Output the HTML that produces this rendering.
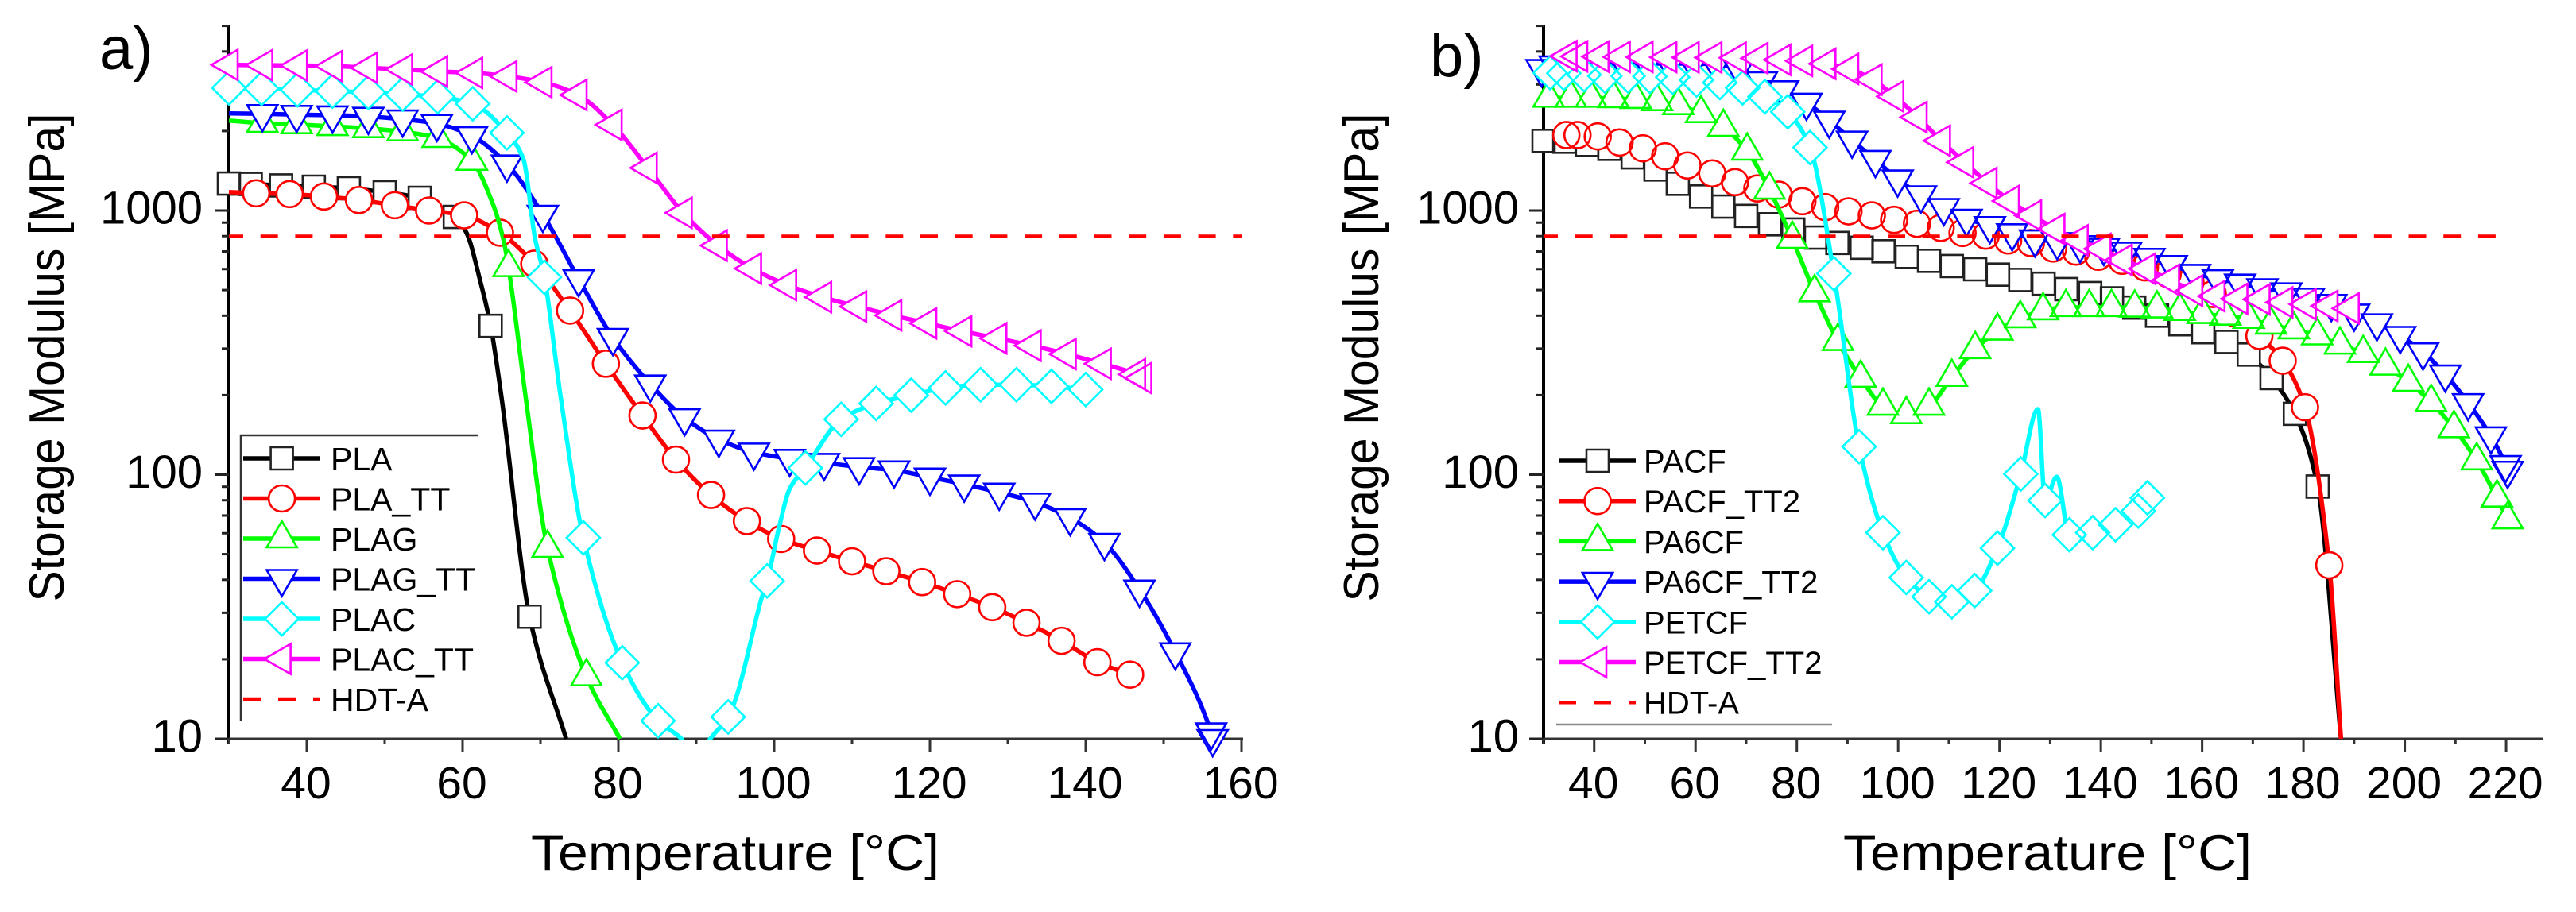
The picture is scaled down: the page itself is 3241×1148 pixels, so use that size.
<!DOCTYPE html>
<html lang="en">
<head>
<meta charset="utf-8">
<title>Storage Modulus vs Temperature</title>
<style>
html,body{margin:0;padding:0;background:#fff;}
svg{display:block;font-family:"Liberation Sans",Arial,sans-serif;}
</style>
</head>
<body>
<svg id="chart" xmlns="http://www.w3.org/2000/svg" width="3241" height="1148" viewBox="0 0 3241 1148">
  <rect x="0" y="0" width="3241" height="1148" fill="#ffffff"/>
  <defs>
    <clipPath id="plotClip"><rect x="0" y="0" width="3241" height="931"/></clipPath>
  </defs>
  <g id="panelA"></g>
  <g id="panelB"></g>
  <text x="125" y="87" font-size="76" fill="#000">a)</text>
  <text x="1799" y="96" font-size="76" fill="#000">b)</text>
  <text x="80" y="450" font-size="62" fill="#000" text-anchor="middle" transform="rotate(-90 80 450)" textLength="615" lengthAdjust="spacingAndGlyphs">Storage Modulus [MPa]</text>
  <text x="1734" y="450" font-size="62" fill="#000" text-anchor="middle" transform="rotate(-90 1734 450)" textLength="615" lengthAdjust="spacingAndGlyphs">Storage Modulus [MPa]</text>
  <text x="925" y="1095" font-size="63" fill="#000" text-anchor="middle" textLength="514" lengthAdjust="spacingAndGlyphs">Temperature [°C]</text>
  <text x="2576" y="1095" font-size="63" fill="#000" text-anchor="middle" textLength="514" lengthAdjust="spacingAndGlyphs">Temperature [°C]</text>
</svg>
<script>
// ---------- Panel a data ----------
const plaT = [30,32.8,36.7,40.9,45.4,50,54.5,59,63.6,68.6];
const plaE = [1265,1260,1244,1231,1214,1173,1117,946,366,29];
const plaLineT = [60.5,62.3,65,73.3];
const plaLineE = [824,536,196,10];

const plaTtT = [33.5,37.8,42.2,46.7,51.3,55.7,60.2,64.8,69.2,73.8,78.4,83.1,87.4,91.9,96.5,100.9,105.5,110,114.4,119,123.5,128,132.4,136.9,141.5,145.7];
const plaTtE = [1162,1154,1130,1096,1047,1000,959,824,629,418,263,167.5,114,83.8,66.7,57.1,51.6,47,43.1,39.2,35.3,31.5,27.5,23.5,19.5,17.5];
const plaTtLineT = [30];
const plaTtLineE = [1175];

const plagT = [34.3,38.7,43.3,47.9,52.3,56.8,61.2,65.9,70.9,75.9];
const plagE = [2142,2117,2083,2045,1989,1878,1539,609,52.7,17.2];
const plagLineT = [30,63.9,65.2,68.1,80.2];
const plagLineE = [2191,1057,785,196,10];

const plagTtT = [34.3,38.7,43.3,47.9,52.3,56.7,61.2,65.7,70.3,74.9,79.3,84.1,88.5,92.9,97.4,102,106.4,110.9,115.4,120,124.4,128.9,133.5,138,142.4,146.9,151.5,156.1,156.3];
const plagTtE = [2323,2307,2296,2269,2217,2132,1917,1498,966,551,330,220,164,136,121.5,115,111,107,104,97.7,92,85.7,78.6,68.6,55.3,36.8,21.3,10.6,10];
const plagTtLineT = [30];
const plagTtLineE = [2332];

const placT = [30,34.2,38.8,43.3,47.9,52.3,56.8,61.3,65.7,70.5,75.5,80.5,85.1,94.1,99.1,104,108.6,113.1,117.6,122,126.5,131.1,135.6,140];
const placE = [2911,2899,2865,2832,2801,2754,2697,2535,1967,559,57.7,19.4,11.7,12.1,39.6,106,162,186,200,213,219,219,216,210];
const placLineT = [67.8,69.3,72.6,88.1,90,91.8,95.3,98.3,100.6,102];
const placLineE = [1568,785,196,10,8.1,10,14.9,33.4,62.7,88.5];

const placTtT = [30,34.45,38.9,43.4,47.9,52.4,56.9,61.4,65.8,70.3,74.8,79.3,83.8,88.3,92.8,97.2,101.7,106.2,110.7,115.2,119.7,124.2,128.7,133.1,137.6,142.1,146.5,147.3];
const placTtE = [3560,3550,3540,3520,3470,3420,3360,3320,3220,3060,2740,2110,1450,980,737,603,522,470,433,401,374,349,328,308,286,263,240,232];

// ---------- Panel b data ----------
const pacfT = [30,34.1,38.6,43,47.6,52.1,56.5,61.1,65.5,70,74.7,79.3,83.8,88,92.8,97.1,101.7,106.1,110.6,115.2,119.7,124.1,128.7,133.2,137.9,142.2,146.6,151.1,155.7,160.2,164.8,169.2,173.7,178.3,182.8];
const pacfE = [1835,1823,1773,1713,1590,1430,1263,1130,1035,954,887,847,790,754,723,701,668,645,616,599,572,546,528,504,487,465,429,400,371,346,318,285,232,170,90.2];
const pacfLineT = [187.4];
const pacfLineE = [10];

const pacfTtT = [34.5,36.7,40.7,45,49.6,54,58.4,63.3,67.8,72.2,76.4,81.1,85.6,90.2,94.8,99.2,103.7,108.4,112.7,117.3,121.7,126.2,130.6,135.1,139.5,144.2,148.7,153.2,157.7,162.1,166.7,171.3,175.9,180.3,185.1];
const pacfTtE = [1931,1931,1908,1810,1720,1605,1481,1382,1280,1212,1149,1084,1030,993,959,922,891,860,822,803,770,753,718,699,668,645,609,575,536,483,406,335,270,180,45.4];
const pacfTtLineT = [187.4];
const pacfTtLineE = [10];

const pa6cfT = [31,35.4,39.4,43.8,48.2,52.4,56.6,61.1,65.5,70.2,74.6,79.1,83.5,88.1,92.6,97,101.6,106.1,110.6,115.2,119.6,124.1,128.6,133.1,137.7,142.1,146.7,151.1,155.6,160.1,164.6,169.2,173.6,178.1,182.7,187.2,191.8,196.2,200.7,205.2,209.7,214.2,218.2,220.3];
const pa6cfE = [2668,2668,2668,2655,2637,2588,2500,2332,2069,1681,1197,779,489,320,232,182,169,182,234,298,350,390,418,430,430,430,428,425,416,405,399,388,369,354,336,310,288,258,224,188,149.6,113,81.7,67.6];
const pa6cfLineT = [];
const pa6cfLineE = [];

const pa6cfTtT = [29.6,32.2,36.7,41.3,45.8,50.4,54.9,59.5,64,68.5,73.1,77.3,81.9,86.4,90.9,95.5,99.9,104.5,109,113.5,118.1,122.5,127,131.4,135.9,140.6,145,149.6,154,158.6,163.1,167.5,171.9,176.6,181.1,185.5,190,194.5,199.1,203.6,208,212.5,217,219.9,220.3];
const pa6cfTtE = [3440,3551,3600,3600,3600,3600,3600,3600,3576,3455,3092,2859,2565,2193,1844,1558,1314,1144,1024,933,875,822,779,761,741,724,700,663,623,577,551,530,509,491,469,444,408,375,336,291,240,187,140,109,103.7];
const pa6cfTtLineT = [];
const pa6cfTtLineE = [];

const petcfT = [31.3,34,38,42.1,46.7,51,55.5,60.2,64.8,69.3,73.7,78.2,82.6,87.3,92.3,97,101.6,106.1,110.6,115.1,119.6,124.2,129,133.8,138.4,142.9,147.4,149.2];
const petcfE = [3320,3307,3268,3230,3230,3217,3195,3120,3050,2911,2697,2365,1732,577,127.6,60.3,40.8,34.5,33,36.4,52.7,100.6,79.8,59.2,60.3,64.6,72.8,81.7];
const petcfLineT = [127.6,131.3];
const petcfLineE = [177,98.2];

const petcfTtT = [34.8,36.9,41.1,45.3,49.8,54.5,58.9,63.4,68.2,72.5,77,81.3,85.9,90.4,95,99.3,103.9,108.5,113.1,117.7,122.1,126.5,131.1,135.7,140.2,144.4,149,153.7,158.3,162.7,167.2,171.6,176.1,180.7,185,189.2];
const petcfTtE = [3840,3832,3824,3814,3814,3806,3800,3796,3787,3771,3720,3684,3593,3437,3131,2705,2257,1837,1523,1270,1087,958,851,771,716,650,602,546,497,474,463,461,449,442,435,426];
const petcfTtLineT = [];
const petcfTtLineE = [];

// ---------- Shared axis labels ----------
const hdtValue = [800];
const yMajorValues = [10,100,1000];
const yMinorValues = [20,30,40,50,60,70,80,90,200,300,400,500,600,700,800,900,2000,3000,4000,5000];
const yTickLabels = ['10','100','1000'];
const xMajorA = [40,60,80,100,120,140,160];
const xMinorA = [30,50,70,90,110,130,150];
const xMajorB = [40,60,80,100,120,140,160,180,200,220];
const xMinorB = [30,50,70,90,110,130,150,170,190,210];
const legendNamesA = ['PLA','PLA_TT','PLAG','PLAG_TT','PLAC','PLAC_TT'];
const legendNamesB = ['PACF','PACF_TT2','PA6CF','PA6CF_TT2','PETCF','PETCF_TT2'];
const hdtName = 'HDT-A';

const NS = 'http://www.w3.org/2000/svg';
function mk(tag, attrs, parent) {
  const el = document.createElementNS(NS, tag);
  for (const k in attrs) { el.setAttribute(k, attrs[k]); }
  if (parent) { parent.appendChild(el); }
  return el;
}
function yScale(v) { return 930 - (Math.log10(v) - 1) * 332.5; }

function markerPath(kind, cx, cy) {
  const R = 22, hw = 19.05;
  if (kind === 'square') { return 'M' + (cx-14) + ' ' + (cy-14) + 'h28v28h-28z'; }
  if (kind === 'circle') { return 'M' + (cx-16.5) + ' ' + cy + 'a16.5 16.5 0 1 0 33 0a16.5 16.5 0 1 0 -33 0z'; }
  if (kind === 'up') { return 'M' + cx + ' ' + (cy-R) + 'L' + (cx+hw) + ' ' + (cy+R/2) + 'L' + (cx-hw) + ' ' + (cy+R/2) + 'z'; }
  if (kind === 'down') { return 'M' + cx + ' ' + (cy+R) + 'L' + (cx+hw) + ' ' + (cy-R/2) + 'L' + (cx-hw) + ' ' + (cy-R/2) + 'z'; }
  if (kind === 'diamond') { return 'M' + cx + ' ' + (cy-21) + 'L' + (cx+21) + ' ' + cy + 'L' + cx + ' ' + (cy+21) + 'L' + (cx-21) + ' ' + cy + 'z'; }
  return 'M' + (cx-R) + ' ' + cy + 'L' + (cx+R/2) + ' ' + (cy-hw) + 'L' + (cx+R/2) + ' ' + (cy+hw) + 'z';
}

function monotonePath(pts) {
  const n = pts.length;
  if (n < 2) { return ''; }
  const dx = [], m = [], tan = [];
  for (let i = 0; i < n - 1; i++) {
    dx[i] = Math.max(pts[i+1][0] - pts[i][0], 0.01);
    m[i] = (pts[i+1][1] - pts[i][1]) / dx[i];
  }
  tan[0] = m[0];
  tan[n-1] = m[n-2];
  for (let i = 1; i < n - 1; i++) {
    if (m[i-1] * m[i] <= 0) { tan[i] = 0; }
    else { tan[i] = 2 * m[i-1] * m[i] / (m[i-1] + m[i]); }
  }
  let d = 'M' + pts[0][0].toFixed(1) + ' ' + pts[0][1].toFixed(1);
  for (let i = 0; i < n - 1; i++) {
    const h = dx[i] / 3;
    d += 'C' + (pts[i][0]+h).toFixed(1) + ' ' + (pts[i][1]+tan[i]*h).toFixed(1) + ' ' +
         (pts[i+1][0]-h).toFixed(1) + ' ' + (pts[i+1][1]-tan[i+1]*h).toFixed(1) + ' ' +
         pts[i+1][0].toFixed(1) + ' ' + pts[i+1][1].toFixed(1);
  }
  return d;
}

function drawAxes(root, key, xScale, xEnd, majors, minors, labelRight) {
  const axisX = xScale(30);
  const ax = mk('g', {}, root);
  
  

  const yLine = mk('line', {x1:axisX, x2:axisX, y1:32, y2:937, stroke:'#000', 'stroke-width':4}, ax);
  
  
  const xLine = mk('line', {x1:axisX, x2:xEnd, y1:930, y2:930, stroke:'#333', 'stroke-width':3}, ax);
  
  

  yMajorValues.forEach(function (v, i) {
    const y = yScale(v);
    const t = mk('line', {x1:axisX-18, x2:axisX, y1:y, y2:y, stroke:'#222', 'stroke-width':3}, ax);
    
    
    const l = mk('text', {x:labelRight, y:y+16.5, 'font-size':58, fill:'#000', 'text-anchor':'end'}, ax);
    
    
    l.textContent = yTickLabels[i];
  });
  yMinorValues.forEach(function (v) {
    const y = yScale(v);
    const t = mk('line', {x1:axisX-9, x2:axisX, y1:y, y2:y, stroke:'#222', 'stroke-width':3}, ax);
    
    
  });
  majors.forEach(function (v) {
    const x = xScale(v);
    const t = mk('line', {x1:x, x2:x, y1:930, y2:946, stroke:'#333', 'stroke-width':3}, ax);
    
    
    const l = mk('text', {x:x-1, y:1005, 'font-size':57, fill:'#000', 'text-anchor':'middle'}, ax);
    
    
    l.textContent = String(v);
  });
  minors.forEach(function (v) {
    const x = xScale(v);
    const t = mk('line', {x1:x, x2:x, y1:930, y2:937, stroke:'#333', 'stroke-width':3}, ax);
    
    
  });
}

function drawSeries(root, key, xScale, s) {
  const g = mk('g', {}, root);
  
  

  const all = [];
  s.t.forEach(function (t, i) { all.push([t, s.e[i]]); });
  s.lt.forEach(function (t, i) { all.push([t, s.le[i]]); });
  all.sort(function (a, b) { return a[0] - b[0]; });
  const pts = all.map(function (p) { return [xScale(p[0]), yScale(p[1])]; });

  const line = mk('path', {d:monotonePath(pts), fill:'none', stroke:s.color, 'stroke-width':5.5, 'clip-path':'url(#plotClip)', 'stroke-linejoin':'round'}, g);
  
  

  s.t.forEach(function (t, i) {
    const f = mk('path', {d:markerPath(s.marker, xScale(t), yScale(s.e[i])), fill:'#fff', stroke:'none'}, g);
    
    
  });
  s.t.forEach(function (t, i) {
    const o = mk('path', {d:markerPath(s.marker, xScale(t), yScale(s.e[i])), fill:'none', stroke:s.stroke || s.color, 'stroke-width':2.6}, g);
    
    
  });
}

function drawHdt(root, key, xScale, xEnd) {
  const y = yScale(hdtValue[0]);
  const l = mk('line', {x1:xScale(30), x2:xEnd, y1:y, y2:y, stroke:'#f00', 'stroke-width':4, 'stroke-dasharray':'22 21.7', 'stroke-dashoffset':4}, root);
  
  
}

function drawLegend(root, key, cfg, series) {
  const g = mk('g', {}, root);
  
  
  const names = series.map(function (s) { return s.name; }).concat([hdtName]);
  names.forEach(function (name, i) {
    const y = cfg.y0 + i * cfg.dy;
    const item = mk('g', {}, g);
    
    
    if (i < series.length) {
      const s = series[i];
      const ln = mk('line', {x1:cfg.x1, x2:cfg.x2, y1:y, y2:y, stroke:s.color, 'stroke-width':5.5}, item);
      
      
      const mkr = mk('path', {d:markerPath(s.marker, cfg.mx, y), fill:'#fff', stroke:s.stroke || s.color, 'stroke-width':2.6}, item);
      
      
    } else {
      const ln = mk('line', {x1:cfg.x1, x2:cfg.x2, y1:y, y2:y, stroke:'#f00', 'stroke-width':4.5, 'stroke-dasharray':'22 22'}, item);
      
      
    }
    const tx = mk('text', {x:cfg.tx, y:y+cfg.base, 'font-size':cfg.font, fill:'#000'}, item);
    
    
    tx.textContent = name;
  });
  return g;
}

function xScaleA(t) { return 288 + (t - 30) * 9.8; }
function xScaleB(t) { return 1942 + (t - 30) * 6.374; }

const seriesA = [
  {name:legendNamesA[0], color:'#000', stroke:'#222', marker:'square', t:plaT, e:plaE, lt:plaLineT, le:plaLineE},
  {name:legendNamesA[1], color:'#f00', marker:'circle', t:plaTtT, e:plaTtE, lt:plaTtLineT, le:plaTtLineE},
  {name:legendNamesA[2], color:'#0f0', marker:'up', t:plagT, e:plagE, lt:plagLineT, le:plagLineE},
  {name:legendNamesA[3], color:'#00f', marker:'down', t:plagTtT, e:plagTtE, lt:plagTtLineT, le:plagTtLineE},
  {name:legendNamesA[4], color:'#0ff', marker:'diamond', t:placT, e:placE, lt:placLineT, le:placLineE},
  {name:legendNamesA[5], color:'#f0f', marker:'left', t:placTtT, e:placTtE, lt:[], le:[]}
];
const seriesB = [
  {name:legendNamesB[0], color:'#000', stroke:'#222', marker:'square', t:pacfT, e:pacfE, lt:pacfLineT, le:pacfLineE},
  {name:legendNamesB[1], color:'#f00', marker:'circle', t:pacfTtT, e:pacfTtE, lt:pacfTtLineT, le:pacfTtLineE},
  {name:legendNamesB[2], color:'#0f0', marker:'up', t:pa6cfT, e:pa6cfE, lt:pa6cfLineT, le:pa6cfLineE},
  {name:legendNamesB[3], color:'#00f', marker:'down', t:pa6cfTtT, e:pa6cfTtE, lt:pa6cfTtLineT, le:pa6cfTtLineE},
  {name:legendNamesB[4], color:'#0ff', marker:'diamond', t:petcfT, e:petcfE, lt:petcfLineT, le:petcfLineE},
  {name:legendNamesB[5], color:'#f0f', marker:'left', t:petcfTtT, e:petcfTtE, lt:petcfTtLineT, le:petcfTtLineE}
];

const rootA = document.getElementById('panelA');
const rootB = document.getElementById('panelB');

drawAxes(rootA, 'panel-a', xScaleA, 1564, xMajorA, xMinorA, 255);
drawAxes(rootB, 'panel-b', xScaleB, 3200, xMajorB, xMinorB, 1911);

seriesA.forEach(function (s) { drawSeries(rootA, 'panel-a', xScaleA, s); });
seriesB.forEach(function (s) { drawSeries(rootB, 'panel-b', xScaleB, s); });

drawHdt(rootA, 'panel-a', xScaleA, 1563);
drawHdt(rootB, 'panel-b', xScaleB, 3141);

const frameA = mk('polyline', {points:'602,548 303,548 303,908', fill:'none', stroke:'#333', 'stroke-width':2.5}, rootA);


const frameB = mk('line', {x1:1958, x2:2305, y1:912, y2:912, stroke:'#888', 'stroke-width':2.5}, rootB);



drawLegend(rootA, 'panel-a', {x1:306, x2:403, mx:354.6, tx:416, y0:577, dy:50.5, base:15, font:41}, seriesA);
drawLegend(rootB, 'panel-b', {x1:1961, x2:2058, mx:2010, tx:2068, y0:580, dy:50.7, base:14.5, font:40}, seriesB);
</script>
</body>
</html>
